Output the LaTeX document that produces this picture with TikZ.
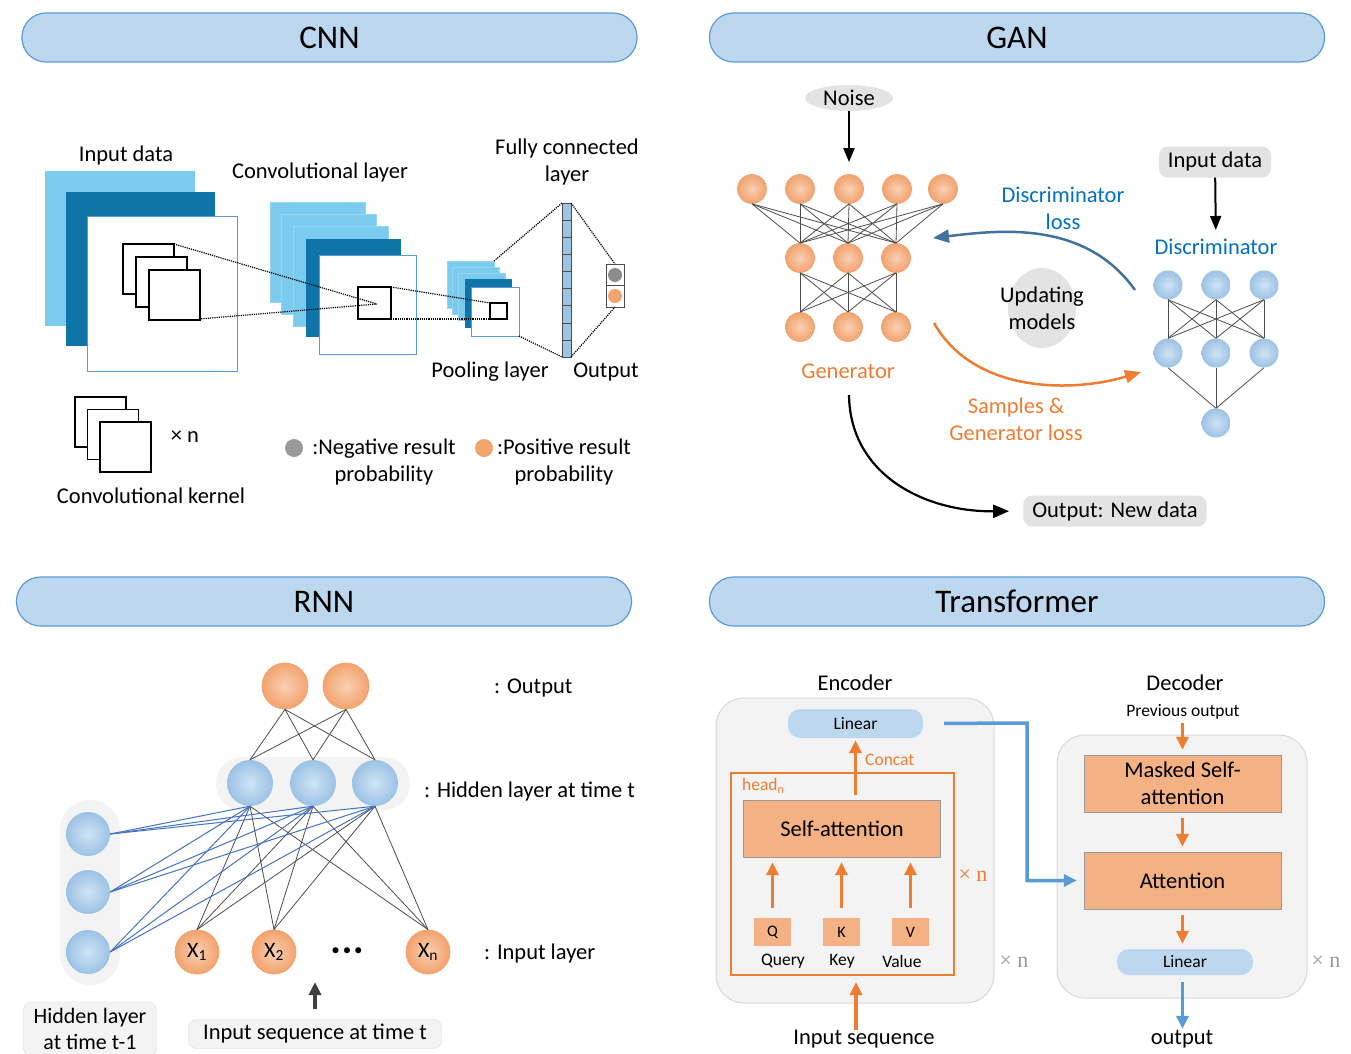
\documentclass[tikz,border=0pt]{standalone}
\usepackage{fontspec}
\setmainfont{Carlito}
\newfontfamily\timesfont{Liberation Serif}
\usetikzlibrary{positioning,arrows.meta,shapes.geometric}

\definecolor{hdrfill}{HTML}{BDD7EE}
\definecolor{hdrline}{HTML}{5B9BD5}
\definecolor{cyanmap}{HTML}{7ACBEE}
\definecolor{darkmap}{HTML}{0F75A8}
\definecolor{orgfill}{HTML}{F4B183}
\definecolor{orgline}{HTML}{ED7D31}
\definecolor{orgin}{HTML}{F9D0B3}
\definecolor{orgout}{HTML}{F2A36E}
\definecolor{bluein}{HTML}{CFE3F5}
\definecolor{blueout}{HTML}{9CC2E5}
\definecolor{fcblue}{HTML}{9DC3E6}
\definecolor{tagfill}{HTML}{E3E3E3}
\definecolor{panelfill}{HTML}{F3F3F3}
\definecolor{lossblue}{HTML}{0070C0}
\definecolor{arcblue}{HTML}{41719C}
\definecolor{linkblue}{HTML}{4472C4}

\tikzset{
  header/.style={draw=hdrline, line width=1.2pt, fill=hdrfill, rounded corners=24pt,
    minimum width=615pt, minimum height=49pt, font=\fontsize{33}{38}\selectfont},
  txt/.style={inner sep=0pt, align=center, font=\fontsize{22.5}{27}\selectfont},
  small/.style={inner sep=0pt, align=center, font=\fontsize{17.5}{20}\selectfont},
  onode/.style={circle, inner sep=0pt, minimum size=#1, draw=orgline!70, line width=0.8pt,
    inner color=orgin, outer color=orgout, font=\fontsize{22}{25}\selectfont},
  onode/.default=29pt,
  bnode/.style={circle, inner sep=0pt, minimum size=#1, inner color=bluein, outer color=blueout},
  bnode/.default=29pt,
  net/.style={black!70, line width=0.8pt},
  tag/.style={txt, fill=tagfill, rounded corners=9pt, minimum height=31pt, inner xsep=9pt},
  darrow/.style={-{Triangle[length=14pt,width=11pt]}, line width=2pt},
  oarrow/.style={-{Triangle[length=13pt,width=12pt]}, orgline, line width=3.5pt},
  barrow/.style={-{Triangle[length=13pt,width=12pt]}, hdrline, line width=3.5pt},
  obox/.style={draw=black!40, fill=orgfill, inner sep=0pt, minimum width=197pt, minimum height=57pt, txt},
  pill/.style={fill=hdrfill, rounded corners=12pt, inner sep=0pt, small},
  panel/.style={draw=black!15, fill=panelfill, rounded corners=28pt, line width=1pt},
  dots/.style={densely dotted, line width=1.2pt}
}

\begin{document}
\begin{tikzpicture}[x=1pt, y=-1pt]
\useasboundingbox (0,0) rectangle (1351,1054);

\node[header] (cnn) at (329.5,37.5) {CNN};
\node[header] (gan) at (1017,37.5) {GAN};
\node[header] (rnn) at (324,601.5) {RNN};
\node[header] (trf) at (1017,601.5) {Transformer};

% CNN
\fill[cyanmap] (45,171) rectangle (195,326);
\fill[darkmap] (66,192) rectangle (215,346);
\draw[hdrline, fill=white] (87,216) rectangle (237,371);
\foreach \d in {0,13,26}
  \draw[line width=1.3pt, fill=white] ({123+\d},{244+\d}) rectangle ++(51,50);
\node[txt] (inlbl) at (126,156) {Input data};

\foreach \x/\y in {270/202,281/214,293/226}
  \draw[cyanmap!80!white, fill=cyanmap] (\x,\y) rectangle ++(95,100);
\fill[darkmap] (306,239) rectangle (401,337);
\draw[hdrline, fill=white] (319,255) rectangle (416,354);
\draw[line width=1.3pt] (358,287) rectangle (391,319);
\node[txt] (convlbl) at (320,173) {Convolutional layer};
\draw[dots] (174,244) -- (377,304);
\draw[dots] (199,319) -- (377,304);

\foreach \x/\y in {447/261,452/267,458/273}
  \draw[cyanmap!80!white, fill=cyanmap] (\x,\y) rectangle ++(47,47);
\fill[darkmap] (465,279) rectangle (512,328);
\draw[hdrline, fill=white] (471,287) rectangle (519,336);
\draw[line width=1.3pt] (490,303) rectangle (507,319);
\draw[dots] (391,287) -- (490,303);
\draw[dots] (391,319) -- (490,319);
\node[txt] (poollbl) at (490,372) {Pooling layer};

\foreach \k in {0,...,8}
  \draw[black!70, fill=fcblue] (562,{203+17.1*\k}) rectangle ++(9,17.1);
\node[txt] (fclbl) at (567,162) {Fully connected\\layer};
\draw[dots] (494,261) -- (562,203);
\draw[dots] (519,336) -- (562,357);
\draw[black!70, fill=white, line width=1pt] (606,264) rectangle (624,307);
\draw[black!70, line width=1pt] (606,285.5) -- (624,285.5);
\fill[black!45] (615,275) circle (7);
\fill[orgout] (615,296) circle (7);
\draw[dots] (571,203) -- (615,264);
\draw[dots] (571,357) -- (615,307);
\node[txt] (outlbl) at (606,372) {Output};

\foreach \d in {0,12.5,25}
  \draw[line width=1.3pt, fill=white] ({75+\d},{397+\d}) rectangle ++(51,50);
\node[txt] (times) at (185,437) {× n};
\node[txt] (kernlbl) at (151,496) {Convolutional kernel};
\fill[black!40] (294,448) circle (9);
\node[txt] (neglbl) at (384,462) {:Negative result\\probability};
\fill[orgout] (484,448) circle (9);
\node[txt] (poslbl) at (564,462) {:Positive result\\probability};

% GAN
\node[ellipse, fill=tagfill, minimum width=88pt, minimum height=26pt, inner sep=0pt,
  font=\fontsize{22.5}{25}\selectfont] (noise) at (849,98) {Noise};
\foreach \i/\x in {1/752,2/800,3/849,4/897,5/943}
  \node[onode] (g1\i) at (\x,189) {};
\foreach \i/\x in {1/800,2/848,3/896} {
  \node[onode] (g2\i) at (\x,258) {};
  \node[onode] (g3\i) at (\x,327) {};
}
\foreach \i in {1,...,5}
  \foreach \j in {1,2,3}
    \draw[net] (g1\i.south) -- (g2\j.north);
\foreach \i in {1,2,3}
  \foreach \j in {1,2,3}
    \draw[net] (g2\i.south) -- (g3\j.north);
\draw[darrow, shorten >=12pt] (noise) -- (g13);
\node[txt, text=orgline] (genlbl) at (848,371) {Generator};

\node[tag] (din) at (1215,162) {Input data};
\node[txt, text=lossblue] (dlbl) at (1216,247) {Discriminator};
\draw[darrow, shorten >=9pt] (din) -- (dlbl);
\foreach \i/\x in {1/1168,2/1216,3/1264} {
  \node[bnode] (d1\i) at (\x,285) {};
  \node[bnode] (d2\i) at (\x,353) {};
}
\node[bnode] (d3) at (1216,423) {};
\foreach \i in {1,2,3} {
  \foreach \j in {1,2,3}
    \draw[net] (d1\i.south) -- (d2\j.north);
  \draw[net] (d2\i.south) -- (d3.north);
}

\node[ellipse, fill=tagfill, minimum width=68pt, minimum height=80pt] (upd) at (1042,308) {};
\node[txt] at (upd) {Updating\\models};
\coordinate (bl0) at (1135,290);
\coordinate (bl1) at (933,238);
\draw[arcblue, line width=2.5pt, -{Triangle[length=16pt,width=13pt]}]
  (bl0) .. controls (1085,220) and (1000,230) .. (bl1);
\node[txt, text=lossblue] (dloss) at (1063,208) {Discriminator\\loss};
\coordinate (or0) at (934,323);
\coordinate (or1) at (1141,372);
\draw[orgline, line width=2.5pt, -{Triangle[length=16pt,width=13pt]}]
  (or0) .. controls (975,395) and (1075,392) .. (or1);
\node[txt, text=orgline] (gloss) at (1016,419) {Samples \&\\Generator loss};
\node[tag] (newdata) at (1115,511) {Output: New data};
\coordinate (bk0) at (849,395);
\draw[line width=2.2pt, -{Triangle[length=16pt,width=13pt]}, shorten >=14pt]
  (bk0) .. controls (850,475) and (925,512) .. (newdata.west);

% RNN
\fill[panelfill, rounded corners=30pt] (60,800) rectangle (120,985);
\fill[panelfill, rounded corners=26pt] (216,757) rectangle (410,810);
\node[onode=46pt] (o1) at (285,686) {};
\node[onode=46pt] (o2) at (346,686) {};
\foreach \i/\x in {1/250,2/313,3/375}
  \node[bnode=46pt] (h\i) at (\x,783) {};
\foreach \i/\y in {1/834,2/892,3/952}
  \node[bnode=44pt] (p\i) at (88,\y) {};
\node[onode=44pt] (x1) at (197,952) {X\textsubscript{1}};
\node[onode=44pt] (x2) at (274,952) {X\textsubscript{2}};
\node[onode=44pt] (xn) at (428,952) {X\textsubscript{n}};
\node[inner sep=0pt, font=\fontsize{17}{17}\selectfont] (dots) at (347,952)
  {\textbullet\hspace{3pt}\textbullet\hspace{3pt}\textbullet};
\foreach \i in {1,2,3} {
  \foreach \o in {1,2}
    \draw[net] (o\o.south) -- (h\i.north);
  \foreach \x in {1,2,n}
    \draw[net] (h\i.south) -- (x\x.north);
  \foreach \p in {1,2,3}
    \draw[linkblue, line width=1pt] (p\p.east) -- (h\i.south);
}
\node[txt, anchor=west] (rout) at (494,688) {: Output};
\node[txt, anchor=west] (rhid) at (424,791) {: Hidden layer at time t};
\node[txt, anchor=west] (rin) at (484,953) {: Input layer};
\node[txt, draw=black!15, fill=panelfill, rounded corners=8pt, minimum width=133pt,
  minimum height=54pt, font=\fontsize{22}{26}\selectfont] (prevh) at (90,1029) {Hidden layer\\at time t-1};
\node[txt, draw=black!15, fill=panelfill, rounded corners=8pt, minimum width=253pt,
  minimum height=29pt] (iseq) at (315,1034) {Input sequence at time t};
\coordinate (seqtip) at (315,982);
\draw[black!75, line width=3.5pt, -{Triangle[length=13pt,width=12pt]}, shorten <=10pt]
  (iseq.north) -- (seqtip);

% Transformer
\node[txt] (enclbl) at (855,683) {Encoder};
\node[txt] (declbl) at (1185,683) {Decoder};
\node[panel, minimum width=278pt, minimum height=305pt] (encbox) at (855,850.5) {};
\node[panel, minimum width=250pt, minimum height=263pt] (decbox) at (1182,866.5) {};
\node[pill, minimum width=135pt, minimum height=29pt] (lin1) at (855.5,723.5) {Linear};
\draw[orgline, line width=2.5pt] (731,773) rectangle (954,975);
\node[small, text=orgline, anchor=west] (head) at (742,786) {head\textsubscript{n}};
\node[obox] (sa) at (842,828.5) {Self-attention};
\node[small, text=orgline, anchor=west] (concat) at (865,760) {Concat};
\draw[oarrow, shorten <=5pt, shorten >=2pt] (lin1.south |- sa.north) -- (lin1.south);
\foreach \n/\t/\x in {q/Q/772.5,k/K/841.5,v/V/910.5} {
  \node[fill=orgfill, minimum width=37pt, minimum height=28pt, inner sep=0pt,
    font=\fontsize{16}{18}\selectfont] (\n) at (\x,932) {\t};
  \draw[oarrow, shorten <=10pt, shorten >=5pt] (\n.north) -- (\n.north |- sa.south);
}
\node[small] (qlbl) at (783,961) {Query};
\node[small] (klbl) at (842,961) {Key};
\node[small] (vlbl) at (902,961) {Value};
\node[txt, text=orgline, font=\timesfont\fontsize{22}{25}\selectfont] (xn1) at (973,876) {× n};
\node[txt, text=black!40, font=\timesfont\fontsize{22}{25}\selectfont] (xn2) at (1014,962) {× n};
\node[txt, text=black!40, font=\timesfont\fontsize{22}{25}\selectfont] (xn3) at (1326,962) {× n};
\node[txt] (inseq) at (864,1039) {Input sequence};
\coordinate (inbase) at (856,1030);
\draw[oarrow] (inbase) -- (856,982);

\node[small] (prevout) at (1183,712) {Previous output};
\node[obox] (msa) at (1182.5,783.5) {Masked Self-\\attention};
\node[obox] (att) at (1182.5,880.5) {Attention};
\node[pill, minimum width=136pt, minimum height=26pt] (lin2) at (1185,962) {Linear};
\node[txt] (outw) at (1182,1039) {output};
\draw[oarrow, shorten <=3pt, shorten >=5pt] (prevout.south -| msa.north) -- (msa.north);
\draw[oarrow, shorten <=6pt, shorten >=5pt] (msa.south) -- (att.north);
\draw[oarrow, shorten <=6pt, shorten >=5pt] (att.south) -- (att.south |- lin2.north);
\draw[barrow, shorten <=7pt, shorten >=1pt] (lin2.south -| att.south) -- (att.south |- outw.north);
\coordinate (bend) at (1027,723);
\draw[barrow, shorten <=21pt, shorten >=7pt] (lin1.east) -- (bend) |- (att.west);
\end{tikzpicture}
\end{document}
